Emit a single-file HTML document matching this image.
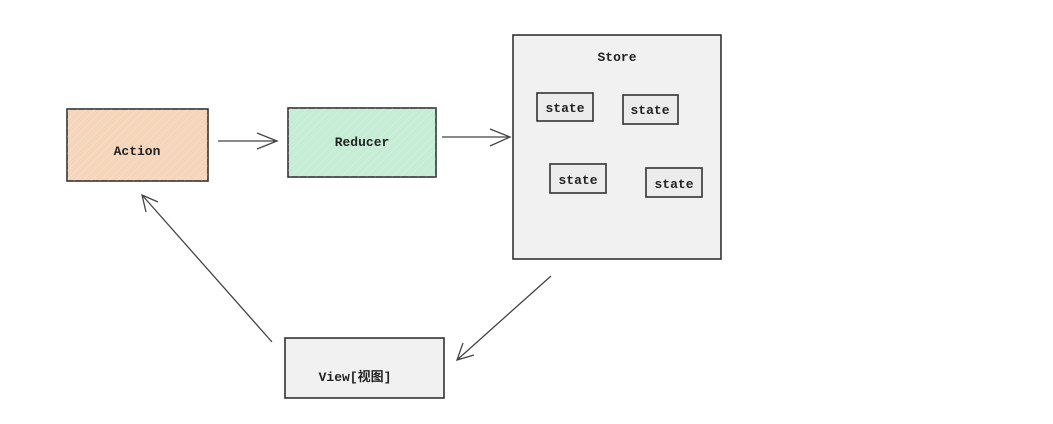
<!DOCTYPE html>
<html><head><meta charset="utf-8"><style>
body{margin:0;background:#fff;}
svg text{font-family:"Liberation Mono","Noto Sans CJK SC",monospace;font-size:13px;font-weight:bold;fill:#222;}
</style></head><body>
<svg width="1053" height="419" viewBox="0 0 1053 419" xmlns="http://www.w3.org/2000/svg">
<defs>
<pattern id="h" width="6" height="6" patternUnits="userSpaceOnUse" patternTransform="rotate(45)">
<line x1="0" y1="0" x2="0" y2="6" stroke="#fff" stroke-opacity="0.35" stroke-width="1"/>
</pattern>
</defs>
<g stroke="#333" stroke-width="1.6">
<rect x="67" y="109" width="141" height="72" fill="#f6d6ba"/>
<rect x="67" y="109" width="141" height="72" fill="url(#h)" stroke="none"/>
<rect x="288" y="108" width="148" height="69" fill="#c5ecd5"/>
<rect x="288" y="108" width="148" height="69" fill="url(#h)" stroke="none"/>
<rect x="513" y="35" width="208" height="224" fill="#f1f1f1"/>
<rect x="537" y="93" width="56" height="28" fill="#ececec"/>
<rect x="623" y="95" width="55" height="29" fill="#ececec"/>
<rect x="550" y="164" width="56" height="29" fill="#ececec"/>
<rect x="646" y="168" width="56" height="29" fill="#ececec"/>
<rect x="285" y="338" width="159" height="60" fill="#f1f1f1"/>
</g>
<g stroke="#444" stroke-width="1.3" fill="none">
<path d="M218 141 L277 141 M257 133 L277 141 L257 149"/>
<path d="M442 137 L510 137 M490 129 L510 137 L490 146"/>
<path d="M551 276 L457 360 M463 343 L457 360 L474 355"/>
<path d="M272 342 L142 195 M146 212 L142 195 L158 202"/>
</g>
<text x="137" y="155" text-anchor="middle">Action</text>
<text x="362" y="146" text-anchor="middle">Reducer</text>
<text x="617" y="61" text-anchor="middle">Store</text>
<text x="565" y="112" text-anchor="middle">state</text>
<text x="650" y="114" text-anchor="middle">state</text>
<text x="578" y="184" text-anchor="middle">state</text>
<text x="674" y="188" text-anchor="middle">state</text>
<text x="355" y="381" text-anchor="middle">View[视图]</text>
</svg>
</body></html>
